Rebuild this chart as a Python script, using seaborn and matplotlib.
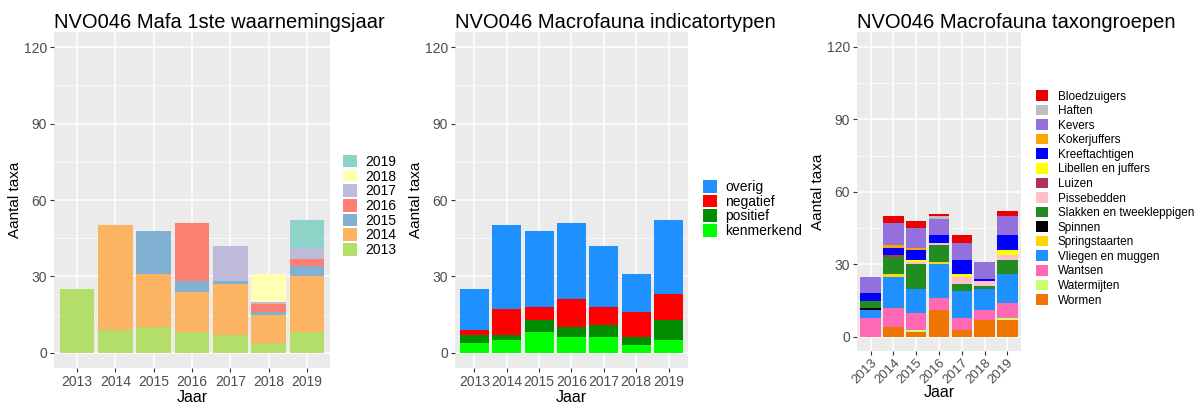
import numpy as np
import pandas as pd
import seaborn as sns
import matplotlib.pyplot as plt
from matplotlib.patches import Patch

years = [2013, 2014, 2015, 2016, 2017, 2018, 2019]

# panel 1: taxa per year, split by year of first observation
first_2013 = [25, 9, 10, 8, 7, 4, 8]
first_2014 = [0, 41, 21, 16, 20, 11, 22]
first_2015 = [0, 0, 17, 4, 1, 1, 4]
first_2016 = [0, 0, 0, 23, 0, 3, 3]
first_2017 = [0, 0, 0, 0, 14, 1, 4]
first_2018 = [0, 0, 0, 0, 0, 11, 0]
first_2019 = [0, 0, 0, 0, 0, 0, 11]
first_labels = ["2019", "2018", "2017", "2016", "2015", "2014", "2013"]
first_colors = ["#8DD3C7", "#FFFFB3", "#BEBADA", "#FB8072", "#80B1D3", "#FDB462", "#B3DE69"]

# panel 2: indicator types
overig = [16, 33, 30, 30, 24, 15, 29]
negatief = [2, 10, 5, 11, 7, 10, 10]
positief = [3, 2, 5, 4, 5, 3, 8]
kenmerkend = [4, 5, 8, 6, 6, 3, 5]
ind_labels = ["overig", "negatief", "positief", "kenmerkend"]
ind_colors = ["#1E90FF", "#FF0000", "#008B00", "#00FF00"]

# panel 3: taxon groups
bloedzuigers = [0, 3, 3, 1, 3, 0, 2]
haften = [0, 0, 0, 1, 0, 0, 0]
kevers = [7, 9, 8, 7, 7, 7, 8]
kokerjuffers = [0, 1, 1, 0, 0, 0, 0]
kreeftachtigen = [3, 3, 4, 3, 6, 1, 6]
libellen = [0, 0, 1, 0, 1, 0, 2]
luizen = [0, 1, 0, 0, 0, 0, 0]
pissebedden = [0, 0, 1, 1, 3, 2, 2]
slakken = [3, 7, 10, 7, 3, 1, 6]
spinnen = [1, 0, 0, 0, 0, 0, 0]
springstaarten = [0, 1, 0, 1, 0, 0, 0]
vliegen = [3, 13, 10, 14, 11, 9, 12]
wantsen = [8, 8, 7, 5, 5, 4, 6]
watermijten = [0, 0, 1, 0, 0, 0, 1]
wormen = [0, 4, 2, 11, 3, 7, 7]
taxon_labels = ["Bloedzuigers", "Haften", "Kevers", "Kokerjuffers", "Kreeftachtigen",
                "Libellen en juffers", "Luizen", "Pissebedden", "Slakken en tweekleppigen",
                "Spinnen", "Springstaarten", "Vliegen en muggen", "Wantsen", "Watermijten",
                "Wormen"]
taxon_colors = ["#EE0000", "#BEBEBE", "#9370DB", "#FFA500", "#0000FF", "#FFFF00", "#B03060",
                "#FFC0CB", "#228B22", "#000000", "#FFD700", "#1E90FF", "#FF69B4", "#CAFF70",
                "#EE7600"]


def long_table(labels, series):
    rows = []
    for lab, vals in zip(labels, series):
        for yr, v in zip(years, vals):
            rows.append({"Jaar": yr, "groep": lab, "n": v})
    return pd.DataFrame(rows)


df1 = long_table(first_labels, [first_2019, first_2018, first_2017, first_2016,
                                first_2015, first_2014, first_2013])
df2 = long_table(ind_labels, [overig, negatief, positief, kenmerkend])
df3 = long_table(taxon_labels, [bloedzuigers, haften, kevers, kokerjuffers, kreeftachtigen,
                                libellen, luizen, pissebedden, slakken, spinnen,
                                springstaarten, vliegen, wantsen, watermijten, wormen])

plt.rcParams['font.family'] = ['Liberation Sans', 'DejaVu Sans']

fig = plt.figure(figsize=(12.03, 4.03), dpi=100)
ax1 = fig.add_axes([0.0449, 0.0868, 0.2294, 0.8337])
ax2 = fig.add_axes([0.3782, 0.0868, 0.1937, 0.8337])
ax3 = fig.add_axes([0.7124, 0.1278, 0.1363, 0.7916])


def style_ax(ax, title, rot=False):
    ax.set_facecolor("#EBEBEB")
    for s in ax.spines.values():
        s.set_visible(False)
    ax.set_xlim(2012.4, 2019.6)
    ax.set_ylim(-6, 126)
    ax.set_xticks(years)
    ax.set_yticks([0, 30, 60, 90, 120])
    ax.set_yticks([15, 45, 75, 105], minor=True)
    ax.grid(which="major", color="white", lw=1.1)
    ax.grid(which="minor", axis="y", color="white", lw=0.5)
    ax.set_axisbelow(True)
    ax.tick_params(which="major", length=3, width=0.8, color="#333333",
                   labelcolor="#4D4D4D", labelsize=10, pad=2)
    ax.tick_params(which="minor", length=0)
    if rot:
        ax.tick_params(axis="x", labelsize=9.5, pad=1)
        plt.setp(ax.get_xticklabels(), rotation=45, ha="right", rotation_mode="anchor")
    ax.set_xlabel("Jaar", fontsize=11.5, labelpad=-1 if rot else 1)
    ax.set_ylabel("Aantal taxa", fontsize=11, labelpad=1)
    ax.set_title(title, loc="left", fontsize=14.5, pad=3)


def stacked(ax, df, labels, colors, title, legfs, anchor, rot=False, spacing=0.05, tpad=0.6):
    sns.histplot(data=df, x="Jaar", weights="n", hue="groep", hue_order=labels,
                 palette=dict(zip(labels, colors)), multiple="stack", discrete=True,
                 shrink=0.9, alpha=1, linewidth=0, legend=False, ax=ax)
    style_ax(ax, title, rot)
    handles = [Patch(facecolor=c, edgecolor="none") for c in colors]
    ax.legend(handles, labels, loc="center left", bbox_to_anchor=anchor,
              frameon=False, fontsize=legfs, handlelength=1.0, handleheight=1.0,
              handletextpad=tpad, labelspacing=spacing, borderpad=0, borderaxespad=0)


stacked(ax1, df1, first_labels, first_colors, "NVO046 Mafa 1ste waarnemingsjaar", 10,
        (1.047, 0.482))
stacked(ax2, df2, ind_labels, ind_colors, "NVO046 Macrofauna indicatortypen", 10,
        (1.064, 0.473))
stacked(ax3, df3, taxon_labels, taxon_colors, "NVO046 Macrofauna taxongroepen", 8.5,
        (1.09, 0.48), rot=True, spacing=0.19, tpad=0.85)

fig.savefig("out.png", dpi=100, facecolor="white")
